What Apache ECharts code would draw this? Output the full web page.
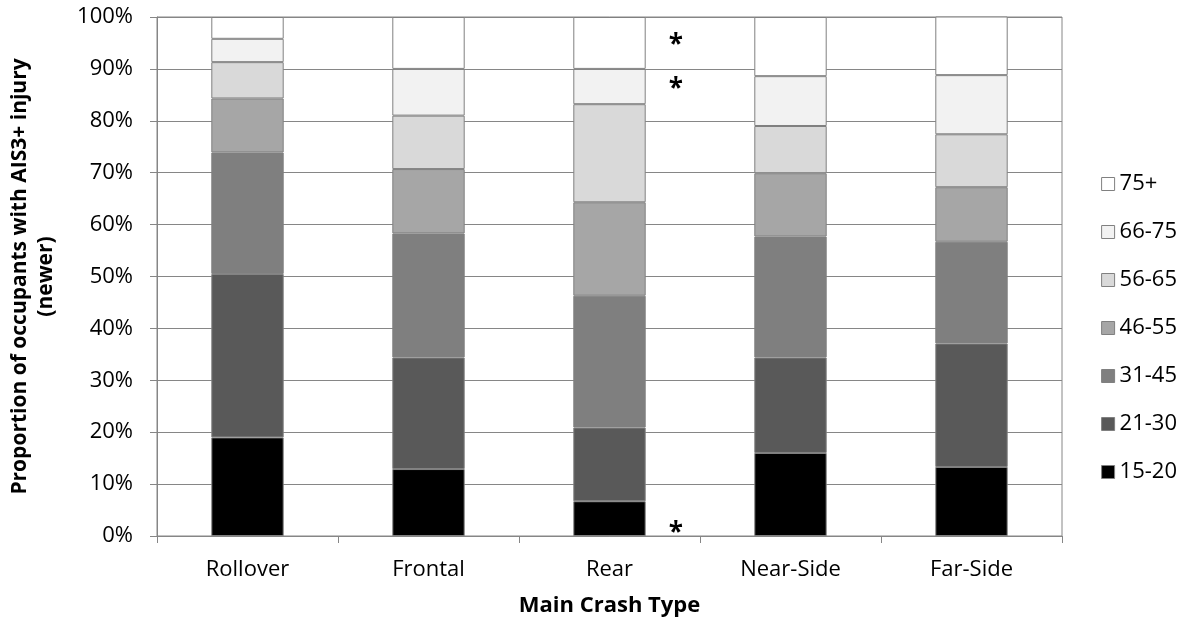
<!DOCTYPE html>
<html>
<head>
<meta charset="utf-8">
<script src="https://cdn.jsdelivr.net/npm/echarts@6/dist/echarts.min.js"></script>
<style>
  html, body { margin: 0; padding: 0; background: #fff; }
  #chart { width: 1196px; height: 625px; }
</style>
</head>
<body>
<div id="chart"></div>
<script>
// crash types on the x axis
const crashTypes = ['Rollover', 'Frontal', 'Rear', 'Near-Side', 'Far-Side']
// age groups, bottom to top of each stack
const ageGroups = ['15-20', '21-30', '31-45', '46-55', '56-65', '66-75', '75+']
// share of occupants (%) per age group, in crashTypes order
const age15_20 = [19.0, 12.9, 6.7, 16.0, 13.3]
const age21_30 = [31.5, 21.5, 14.2, 18.4, 23.8]
const age31_45 = [23.4, 23.9, 25.4, 23.3, 19.6]
const age46_55 = [10.4, 12.4, 18.0, 12.2, 10.5]
const age56_65 = [7.0, 10.3, 18.9, 9.1, 10.2]
const age66_75 = [4.5, 9.0, 6.8, 9.6, 11.4]
const age75p = [4.2, 10.0, 10.0, 11.4, 11.6]
const yTicks = [0, 10, 20, 30, 40, 50, 60, 70, 80, 90, 100]
// groups flagged with * next to the Rear bar
const flagged = ['15-20', '66-75', '75+']

const colors = ['#000000', '#595959', '#7f7f7f', '#a6a6a6', '#d9d9d9', '#f2f2f2', '#ffffff']
const values = [age15_20, age21_30, age31_45, age46_55, age56_65, age66_75, age75p]
const font = '"Open Sans", sans-serif'
const gray = '#868686'

let chart = echarts.init(document.getElementById('chart'))

let series = ageGroups.map((name, i) => ({
  name: name,
  type: 'bar',
  stack: 'total',
  barWidth: '40%',
  itemStyle: { color: colors[i], borderColor: '#808080', borderWidth: 1 },
  data: values[i].map((v, j) => {
    if (crashTypes[j] === 'Rear' && flagged.indexOf(name) >= 0) {
      return {
        value: v,
        label: {
          show: true,
          formatter: '*',
          position: 'right',
          distance: 23,
          offset: name === '15-20' ? [0, 15] : [0, 3],
          color: '#000',
          fontFamily: font,
          fontWeight: 'bold',
          fontSize: 26
        }
      }
    }
    return v
  })
}))

let option = {
  animation: false,
  textStyle: { fontFamily: font },
  grid: {
    left: 157, right: 134, top: 17, bottom: 89,
    containLabel: false,
    outerBoundsMode: 'none',
    show: true, borderColor: gray, borderWidth: 1
  },
  legend: {
    orient: 'vertical',
    right: 14,
    top: 168,
    itemWidth: 13,
    itemHeight: 13,
    itemGap: 26,
    icon: 'rect',
    data: ageGroups.slice().reverse(),
    itemStyle: { borderColor: '#808080', borderWidth: 1 },
    textStyle: { fontFamily: font, fontSize: 22, color: '#000' }
  },
  xAxis: {
    type: 'category',
    data: crashTypes,
    name: 'Main Crash Type',
    nameLocation: 'middle',
    nameGap: 59,
    nameTextStyle: { fontFamily: font, fontSize: 22, fontWeight: 'bold', color: '#000' },
    axisLine: { lineStyle: { color: gray, width: 1 } },
    axisTick: { show: true, length: 7, lineStyle: { color: gray } },
    axisLabel: { fontFamily: font, fontSize: 22, color: '#000', margin: 23 },
    splitLine: { show: false }
  },
  yAxis: {
    type: 'value',
    min: yTicks[0],
    max: yTicks[yTicks.length - 1],
    interval: 10,
    name: 'Proportion of occupants with AIS3+ injury\n(newer)',
    nameLocation: 'middle',
    nameGap: 98,
    nameTextStyle: { fontFamily: font, fontSize: 21, fontWeight: 'bold', color: '#000', lineHeight: 26 },
    axisLine: { show: true, lineStyle: { color: gray, width: 1 } },
    axisTick: { show: true, length: 7, lineStyle: { color: gray } },
    axisLabel: { fontFamily: font, fontSize: 22, color: '#000', margin: 24, formatter: '{value}%' },
    splitLine: { show: true, lineStyle: { color: gray, width: 1 } }
  },
  series: series
}

chart.setOption(option)
</script>
</body>
</html>
